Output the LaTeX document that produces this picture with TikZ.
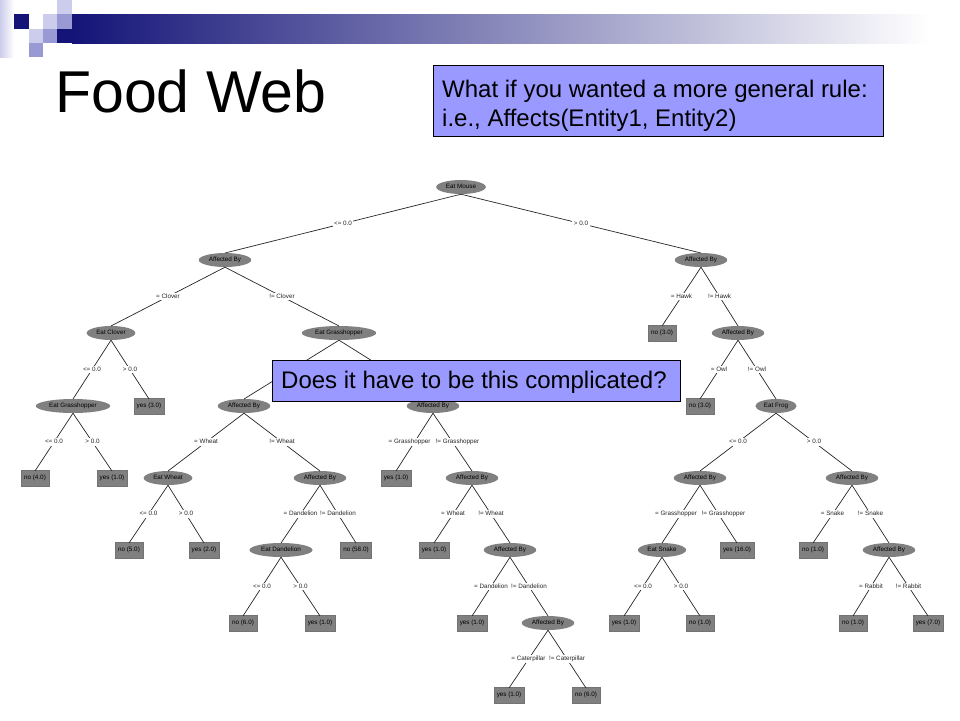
\documentclass[tikz,border=0pt]{standalone}
\usepackage{fontspec}
\setmainfont{Liberation Sans}
\usetikzlibrary{shapes.geometric}
\definecolor{hdnavy}{RGB}{20,20,120}
\definecolor{hdpale}{RGB}{204,204,236}
\definecolor{hdmid}{RGB}{153,153,212}
\definecolor{notebg}{RGB}{153,153,255}
\begin{document}
\begin{tikzpicture}[x=1pt,y=-1pt,
    split/.style={ellipse,fill=gray,inner xsep=2.5pt,inner ysep=0pt,minimum height=14pt,text height=4.5pt,text depth=1.2pt,font=\fontsize{6.3}{7}\selectfont},
    leaf/.style={rectangle,fill=gray,draw=black!55,inner xsep=3pt,inner ysep=0pt,minimum height=16pt,text height=4.5pt,text depth=1.2pt,font=\fontsize{6.3}{7}\selectfont},
    lbl/.style={fill=white,inner xsep=1.5pt,inner ysep=1pt,text height=4.5pt,text depth=1.2pt,font=\fontsize{6.3}{7}\selectfont},
    edge/.style={black!85,line width=.7pt},
    note/.style={fill=notebg,draw=black,line width=.9pt,inner sep=0pt},
    txt/.style={anchor=base west,inner sep=0pt}]
  \useasboundingbox(0,0)rectangle(960,720);
  % header
  \shade[left color=hdpale,right color=white](0,0)rectangle(14,57);
  \shade[left color=hdnavy,right color=white](72,14)rectangle(930,43);
  \fill[hdnavy](14,14)rectangle(29,29);
  \fill[hdpale](29,29)rectangle(43,43);
  \fill[hdmid](29,43)rectangle(43,57);
  \fill[hdpale](43,14)rectangle(57,29);
  \fill[hdmid](43,29)rectangle(57,43);
  \fill[hdpale](57,0)rectangle(72,14);
  \fill[hdmid](57,14)rectangle(72,29);
  \fill[hdnavy](57,29)rectangle(72,43);
  \node[txt,font=\fontsize{59}{61}\selectfont](title)at(55,112){Food Web};
  % tree
  \node[split](r)at(461,187){Eat Mouse};
  \node[split](a)at(225,260){Affected By};
  \node[split](b)at(701,260){Affected By};
  \node[split](a1)at(111,333){Eat Clover};
  \node[split](a2)at(339,333){Eat Grasshopper};
  \node[leaf](b1)at(662,333){no (3.0)};
  \node[split](b2)at(738,333){Affected By};
  \node[split](a11)at(73,406){Eat Grasshopper};
  \node[leaf](a12)at(149,406){yes (3.0)};
  \node[split](a21)at(244,406){Affected By};
  \node[split](a22)at(433,406){Affected By};
  \node[leaf](b21)at(700,406){no (3.0)};
  \node[split](b22)at(776,406){Eat Frog};
  \node[leaf](a111)at(35,478){no (4.0)};
  \node[leaf](a112)at(112,478){yes (1.0)};
  \node[split](a211)at(168,478){Eat Wheat};
  \node[split](a212)at(320,478){Affected By};
  \node[leaf](a221)at(396,478){yes (1.0)};
  \node[split](a222)at(472,478){Affected By};
  \node[split](b221)at(700,478){Affected By};
  \node[split](b222)at(852,478){Affected By};
  \node[leaf](a2111)at(129,550){no (5.0)};
  \node[leaf](a2112)at(204,550){yes (2.0)};
  \node[split](a2121)at(281,550){Eat Dandelion};
  \node[leaf](a2122)at(356,550){no (58.0)};
  \node[leaf](a2221)at(434,550){yes (1.0)};
  \node[split](a2222)at(510,550){Affected By};
  \node[split](b2211)at(662,550){Eat Snake};
  \node[leaf](b2212)at(737,550){yes (16.0)};
  \node[leaf](b2221)at(813,550){no (1.0)};
  \node[split](b2222)at(889,550){Affected By};
  \node[leaf](a21211)at(243,623){no (6.0)};
  \node[leaf](a21212)at(320,623){yes (1.0)};
  \node[leaf](a22221)at(472,623){yes (1.0)};
  \node[split](a22222)at(548,623){Affected By};
  \node[leaf](b22111)at(624,623){yes (1.0)};
  \node[leaf](b22112)at(700,623){no (1.0)};
  \node[leaf](b22221)at(853,623){no (1.0)};
  \node[leaf](b22222)at(928,623){yes (7.0)};
  \node[leaf](a222221)at(509,695){yes (1.0)};
  \node[leaf](a222222)at(586,695){no (6.0)};
  \foreach \p/\c/\t in {r/a/<= 0.0,r/b/> 0.0,a/a1/= Clover,a/a2/!= Clover,b/b1/= Hawk,b/b2/!= Hawk,
      a1/a11/<= 0.0,a1/a12/> 0.0,b2/b21/= Owl,b2/b22/!= Owl,a11/a111/<= 0.0,a11/a112/> 0.0,
      a21/a211/= Wheat,a21/a212/!= Wheat,b22/b221/<= 0.0,b22/b222/> 0.0,a211/a2111/<= 0.0,a211/a2112/> 0.0,
      a212/a2121/= Dandelion,a212/a2122/!= Dandelion,a222/a2221/= Wheat,a222/a2222/!= Wheat,
      b222/b2221/= Snake,b222/b2222/!= Snake,
      a2121/a21211/<= 0.0,a2121/a21212/> 0.0,a2222/a22221/= Dandelion,a2222/a22222/!= Dandelion,
      b2211/b22111/<= 0.0,b2211/b22112/> 0.0,b2222/b22221/= Rabbit,b2222/b22222/!= Rabbit,
      a22222/a222221/= Caterpillar,a22222/a222222/!= Caterpillar}
    \draw[edge](\p.south)--node[lbl]{\t}([yshift=7pt]\c.center);
  \foreach \p/\l/\r in {a22/a221/a222,b221/b2211/b2212}{
    \draw[edge](\p.south)--node[lbl,xshift=-5pt]{= Grasshopper}([yshift=7pt]\l.center);
    \draw[edge](\p.south)--node[lbl,xshift=5pt]{!= Grasshopper}([yshift=7pt]\r.center);
  }
  \draw[edge](a2.south)--([yshift=7pt]a21.center);
  \draw[edge](a2.south)--([yshift=7pt]a22.center);
  % notes
  \node[note,anchor=north west,minimum width=450pt,minimum height=71pt](rule)at(433,65){};
  \node[txt,font=\fontsize{24}{29}\selectfont](rule1)at(442,97){What if you wanted a more general rule:};
  \node[txt,font=\fontsize{24}{29}\selectfont](rule2)at(442,126){i.e., Affects(Entity1, Entity2)};
  \node[note,anchor=north west,minimum width=408pt,minimum height=41pt](ask)at(272,360){};
  \node[txt,font=\fontsize{24}{29}\selectfont](ask1)at(281,388){Does it have to be this complicated?};
\end{tikzpicture}
\end{document}
